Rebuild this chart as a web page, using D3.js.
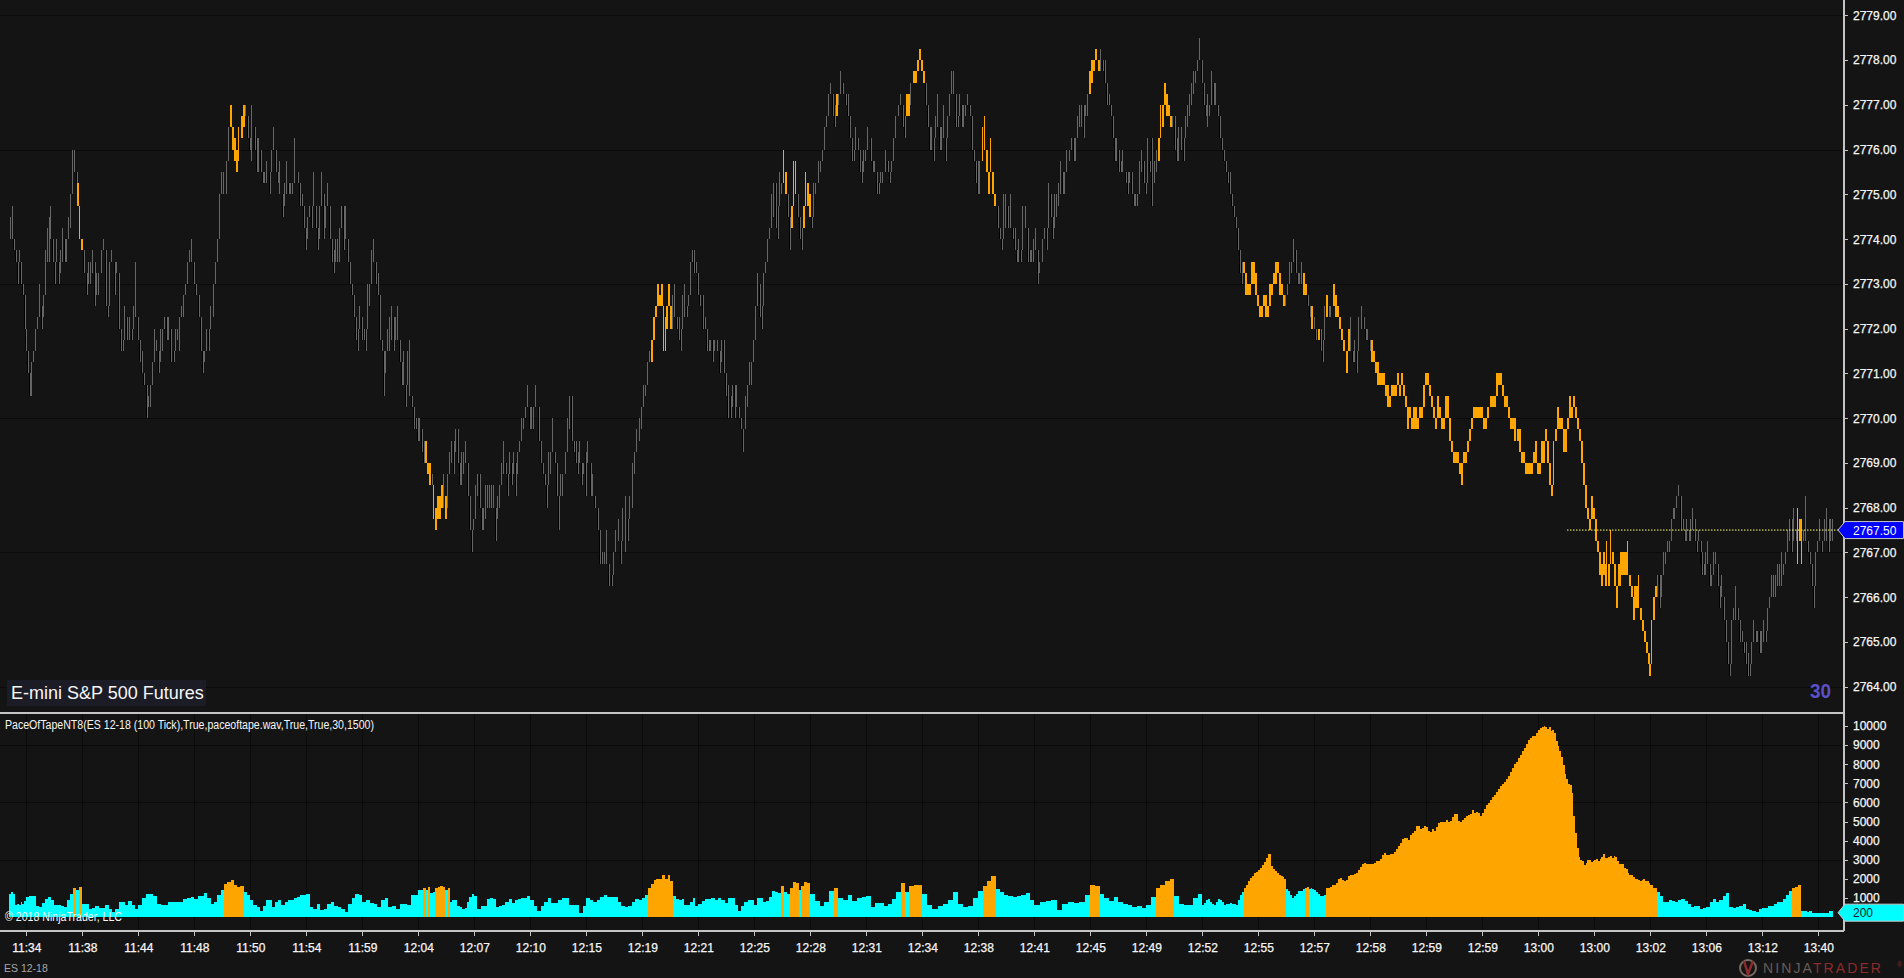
<!DOCTYPE html>
<html><head><meta charset="utf-8">
<script src="https://cdn.jsdelivr.net/npm/d3@7/dist/d3.min.js"></script>
<style>
html,body{margin:0;padding:0;background:#141414;overflow:hidden}
svg{display:block}
text{font-family:"Liberation Sans",Arial,sans-serif}
</style></head><body>
<svg id="c" width="1904" height="978"></svg>
<script>
const timeLabels=["11:34","11:38","11:44","11:48","11:50","11:54","11:59","12:04","12:07","12:10","12:15","12:19","12:21","12:25","12:28","12:31","12:34","12:38","12:41","12:45","12:49","12:52","12:55","12:57","12:58","12:59","12:59","13:00","13:00","13:02","13:06","13:12","13:40"];
const priceTicks=[2764,2765,2766,2767,2768,2769,2770,2771,2772,2773,2774,2775,2776,2777,2778,2779];
const priceGrid=[2764,2767,2770,2773,2776,2779];
const paceTicks=[1000,2000,3000,4000,5000,6000,7000,8000,9000,10000];
const paceGrid=[3000,6000,9000];
const priceBase=2764, tickSize=0.25, paceThreshold=1500, lastPrice=2767.5, lastPace=200;
// Each entry is [low, high, hot] in quarter-point ticks above priceBase, grouped by time-label interval.
const priceSections=[
[[40,42],[40,43],[39,40],[38,39],[36,38],[38,39],[36,38],[35,36],[32,34],[30,32]],
[[28,30],[26,28],[26,29],[29,30],[31,32],[32,33],[33,36],[32,34],[33,35],[35,39],[38,41],[38,42],[40,43],[38,40],[36,38],[38,40],[36,38],[37,39],[38,41],[38,40],[38,40],[40,42],[41,44],[44,48],[46,48],[45,46],[43,45,1],[40,42,1],[39,40,1]],
[[37,39],[35,37],[36,38],[36,38],[37,39],[34,38],[35,37],[35,37],[37,39],[39,40],[34,36],[33,34],[34,38],[38,39],[35,38],[37,38],[32,35],[30,32],[30,31],[31,34],[31,33],[31,33],[31,32],[32,34],[33,38],[31,33]],
[[29,31],[28,30],[27,28],[24,27],[25,26],[25,27],[27,29],[29,32],[30,31],[28,30],[29,32],[30,32],[32,33],[31,33],[31,33],[29,32],[29,30],[30,32],[31,32],[30,33],[33,34],[33,35],[35,36],[37,38],[38,39],[38,40],[36,38]],
[[35,36],[33,34],[30,32],[28,30],[29,30],[31,32],[30,32],[32,34],[33,36],[37,38],[39,40],[40,44],[44,46],[44,46],[44,47],[48,50],[50,52,1],[48,50,1],[47,49,1],[46,48,1],[47,50,1],[49,51,1],[50,52,1],[51,52],[49,51],[48,49]],
[[47,52],[48,50],[46,49],[46,49],[46,48],[45,46],[45,46],[45,47],[44,46],[46,48],[48,50],[46,47],[45,46],[44,47],[42,44],[43,45],[44,47],[44,45],[44,45],[44,45],[46,49],[45,46],[43,45],[43,44],[41,43],[39,41]],
[[40,42],[42,43],[41,43],[43,46],[41,43],[39,40],[40,43],[43,46],[40,44],[41,43],[43,45],[40,41],[38,40],[37,39],[38,40],[38,40],[38,41],[41,43],[39,43],[40,43],[38,40],[36,38],[35,36],[33,35],[31,33],[30,32],[32,34],[31,33]],
[[31,32],[30,32],[33,36],[34,36],[37,39],[38,40],[36,38],[35,37],[31,34],[30,31],[26,30],[28,30],[31,32],[30,33],[31,34],[30,33],[31,33],[31,34],[29,31],[27,29],[27,30],[25,27],[27,30],[26,31],[25,26],[23,25],[23,24],[22,24]],
[[22,24],[21,23],[20,22],[20,22,1],[19,20,1],[18,20,1],[18,19],[15,17,1],[14,16,1],[15,17,1],[15,17,1],[16,18,1],[16,19],[15,17,1],[16,19],[19,21],[20,22],[19,22],[21,23],[20,23],[18,20],[18,21],[19,21],[20,22],[17,19],[14,17],[12,14],[14,15]],
[[16,18],[17,19],[16,19],[14,16],[14,16],[15,18],[16,18],[16,18],[16,18],[16,18],[13,15],[15,17],[16,18],[18,20],[19,22],[19,20],[17,19],[19,21],[18,20],[19,21],[17,20],[19,21],[21,22],[22,24],[23,24],[24,25],[25,27],[23,24]],
[[23,25],[23,25],[25,27],[22,24],[20,22],[19,20],[18,19],[16,18],[18,21],[19,21],[21,24],[20,21],[17,19],[14,17],[17,19],[17,19],[20,21],[22,24],[23,26],[22,26],[21,22],[20,22],[19,21],[20,22],[18,19],[19,20],[17,21]],
[[20,22],[17,19],[17,19],[16,17],[14,16],[11,13],[11,12],[11,12],[11,14],[9,11],[9,10],[10,12],[12,14],[13,15],[11,13],[13,16],[12,17],[13,15],[15,17],[16,20],[19,21],[21,23],[22,24],[23,25]],
[[25,27],[26,27],[27,29],[29,30],[29,31,1],[31,33,1],[33,34,1],[34,36,1],[34,35,1],[34,36,1],[30,33,1],[30,33,1],[32,34,1],[34,36,1],[32,34,1],[32,35],[33,36],[32,33],[31,33],[30,32],[33,35],[33,36],[33,34],[34,35],[36,38],[38,39],[37,39],[37,38],[35,37]],
[[34,35],[32,35],[32,33],[30,32],[30,31],[30,31],[29,31],[30,31],[30,31],[28,30],[29,31],[28,31],[26,28],[24,27],[24,26],[25,27],[24,27],[25,27],[24,25],[23,24],[21,23],[24,26],[25,27],[27,29],[27,29],[29,31]],
[[32,34],[35,37],[33,36],[32,34],[34,37],[37,38],[38,40],[40,41],[41,44],[42,45],[41,45],[40,43],[43,46],[44,45],[46,48,1],[44,46,1],[42,43],[39,41],[41,43,1],[43,47,1],[44,47,1],[42,44],[40,42],[39,41],[41,43,1],[44,46,1],[43,45,1],[42,44,1]],
[[41,42],[44,45],[44,45],[45,47],[46,47],[47,48],[48,50],[50,51],[51,53],[53,54],[51,53],[50,52],[51,53,1],[52,53],[53,55],[53,54],[52,53],[51,53],[49,51],[47,49],[47,48],[48,50],[48,49],[46,48],[45,47],[46,48],[47,48]],
[[48,50],[47,49],[46,47],[46,47],[44,46],[44,45],[45,46],[45,46],[46,48],[46,47],[45,46],[46,47],[47,49],[50,51],[51,52],[52,53],[50,51],[49,51],[52,53,1],[51,53,1],[52,54],[54,55,1],[54,55,1],[55,56,1],[56,57,1],[55,56,1]],
[[54,55,1],[52,53],[50,52],[48,50],[48,50],[47,49],[49,51],[50,53],[48,50],[48,50],[49,52],[47,49],[49,51],[51,53],[53,55],[53,55],[50,52],[50,51],[52,53],[50,51],[50,52],[51,52],[52,53],[51,52],[48,50],[47,48],[45,47],[44,47]],
[[44,47],[48,50,1],[48,51,1],[46,47,1],[44,46,1],[46,49,1],[44,46,1],[43,44,1],[41,43],[40,41],[39,40],[41,44],[41,44],[41,43],[41,44],[40,41],[39,41],[38,39],[38,40],[38,39],[40,43],[41,43],[38,41],[38,39],[38,39],[38,40]],
[[39,41],[36,39],[37,38],[38,40],[40,41],[39,41],[43,45],[42,44],[40,41],[41,44],[42,44],[43,45],[44,47],[44,46],[44,46],[46,48],[47,48],[48,49],[47,49],[47,49],[49,51],[50,52],[50,52],[49,52],[51,52],[51,53],[53,55,1]],
[[54,56,1],[55,56,1],[56,57,1],[55,56,1],[55,57],[55,56],[54,56],[52,54],[52,53],[51,52],[49,51],[47,49],[47,49],[46,48],[46,47],[46,48],[45,46],[44,46],[45,46],[44,46],[43,44],[43,44],[43,44],[44,47],[46,48],[45,47],[44,45]],
[[46,49],[46,47],[43,49],[45,47],[46,48],[47,49,1],[50,52,1],[50,52,1],[52,54,1],[51,53,1],[51,52,1],[50,51,1],[50,51],[48,51],[47,49],[47,50],[48,50],[47,49],[49,51],[50,52],[51,53],[52,54],[53,55],[54,55],[55,56],[56,58],[54,56]],
[[52,54],[51,52],[50,53],[51,52],[53,55],[52,54],[52,54],[51,52],[49,50],[48,49],[47,48],[46,47],[45,46],[44,46],[43,44],[42,43],[41,42],[39,41],[37,39],[36,38],[37,38,1],[35,37,1],[35,36,1],[35,36,1],[37,38,1],[36,38,1],[35,37,1],[34,35,1]],
[[33,34,1],[33,34,1],[34,35,1],[33,35,1],[33,34,1],[34,36,1],[35,36,1],[36,37,1],[36,38,1],[37,38,1],[35,37,1],[35,36,1],[34,35,1],[34,35],[35,36],[36,38],[37,38],[39,40],[37,39],[36,37],[36,37],[36,38],[35,37,1],[35,36,1],[34,35],[33,34],[32,34,1],[32,33]],
[[31,32],[31,32,1],[30,32],[29,31],[32,34],[33,35,1],[33,34],[33,34],[34,36,1],[33,35,1],[33,34,1],[32,33,1],[31,32,1],[30,31,1],[28,30,1],[30,32,1],[30,33],[29,30],[29,31],[28,30],[30,33],[32,34],[32,33],[31,32],[31,32],[30,31]],
[[29,31,1],[29,30,1],[28,29,1],[27,29,1],[27,28,1],[27,28,1],[27,28,1],[26,27,1],[25,27,1],[25,26,1],[26,27,1],[26,27,1],[26,27,1],[27,28,1],[26,27,1],[27,28,1],[26,27,1],[25,26,1],[23,25,1],[24,25,1],[23,24,1],[23,25,1],[23,25,1],[23,24,1],[24,25,1],[24,25,1],[26,27,1],[27,28,1]],
[[27,28,1],[26,27,1],[25,26,1],[24,25,1],[23,24,1],[25,26,1],[24,25,1],[23,24,1],[23,24,1],[24,26,1],[24,26,1],[22,23,1],[21,22,1],[20,21,1],[20,21,1],[20,21,1],[19,20,1],[18,20,1],[20,21,1],[20,21,1],[21,22,1],[22,23,1],[23,24,1],[24,25,1],[24,25,1],[24,25,1],[24,25,1],[24,25,1]],
[[23,24,1],[23,24,1],[24,25,1],[25,26,1],[25,26,1],[25,26,1],[27,28,1],[27,28,1],[27,28,1],[26,27,1],[25,26,1],[25,26,1],[24,25,1],[23,24,1],[23,24,1],[22,24,1],[22,23,1],[21,23,1],[20,21,1],[20,21,1],[19,20,1],[19,20,1],[19,20,1],[19,20,1],[20,21,1],[20,22,1],[19,20,1]],
[[19,20,1],[20,22,1],[20,22,1],[22,23,1],[20,21,1],[18,20,1],[17,18,1],[20,22,1],[22,23,1],[24,25,1],[23,24,1],[23,24,1],[21,23,1],[21,23,1],[23,24,1],[25,26,1],[24,25,1],[25,26,1],[24,25,1],[23,24,1],[22,23,1],[20,22,1],[18,20,1],[16,17,1],[15,16,1],[14,15,1],[15,17,1],[15,16,1]],
[[13,14,1],[12,13,1],[10,12,1],[9,11,1],[10,12,1],[9,11,1],[10,13,1],[9,11,1],[11,14,1],[11,12,1],[9,10,1],[7,9,1],[9,11,1],[9,12,1],[10,12,1],[10,12,1],[10,12,1],[10,13,1],[9,10,1],[8,9,1],[6,8,1],[7,9,1],[7,9,1],[7,10,1],[6,7,1],[5,6,1],[4,5,1],[3,4,1],[2,3,1],[1,2,1]],
[[3,6,1],[6,8,1],[8,9,1],[8,10],[7,10],[8,10],[10,12],[11,12],[12,13],[12,13],[13,15],[15,16],[15,16],[16,17],[17,18],[14,16],[14,15],[13,14],[13,15],[13,14],[13,15],[14,16],[13,15],[12,13],[13,14],[11,12],[10,12],[10,11],[10,12]],
[[11,13],[9,10],[9,10],[10,12],[11,12],[9,10],[7,9],[8,10],[6,8],[4,6],[2,4],[1,2],[4,6],[6,7],[6,9],[6,7],[4,6],[4,5],[3,4],[2,4],[1,3],[1,2],[3,4],[4,6],[4,5],[4,5],[3,5],[3,5]],
[[4,6],[4,5],[5,7],[7,8],[8,10],[8,10],[8,10],[9,11],[9,11],[9,12],[10,11],[11,12],[12,14],[13,15],[12,15],[13,16],[13,14],[11,16,1],[13,15,1],[11,15,1],[13,14],[13,17],[12,13],[11,12],[9,11],[7,9],[11,12],[12,13]],
[[13,15],[12,13],[13,15],[13,16],[12,15],[13,15],[13,15]]
];
// Pace-of-tape histogram values, grouped the same way.
const paceSections=[
[1200,1300,1200,650,700,650,800,700,850],
[1050,1080,1080,600,520,730,960,1050,870,610,650,600,520,870,1220,1500,1400,1570],
[700,700,440,490,575,490,490,610,440,260,440,785,785,610,840,610,440],
[610,1010,1190,1220,1110,700,645,645,785,785,785,785,960,1010,1050],
[960,1080,1080,1270,1010,700,785,1130,1400,1710,1830,1920,1660,1570,1605,1310,1130],
[870,610,520,310,560,870,870,520,785,870,610,785,910,910,1010,1050,1170,1130],
[1190,520,440,700,350,440,700,785,560,520,440,260,700,1010,1190,1130],
[785,870,730,700,520,870,1010,520,560,440,700,700,610,1130,1130],
[1400,1430,1500,1400,1580,1250,1300,1500,1580,1600,1550,1400,1500,780,870,870,600,520,420,450,780,1050,1200],
[1100,400,570,600,920,1000,920,520,600,620,800,960,750,870,950,1000,1000,1100],
[870,600,300,550,800,970,730,730,900,1000,1000,650,620,650,220,550],
[1000,900,780,900,1050,1130,1050,1050,1050,800,560,520,600,780,950,880],
[1000,1150,1500,1750,1950,1970,2000,2200,2000,2200,1900,1100,950,870,950,620,650,800,1000,550],
[700,830,930,960,990,900,970,900,720,1000,1000,650,300,580,800,900,900],
[620,1000,1000,800,830,1050,1350,1300,1250,1600,1300,1200,1500,1820,1800,1400,1620,1850,1800],
[1200,820,550,800,1350,1500,1000,900,1130,850,1000,1050],
[1090,500,750,720,580,700,950,1300,1800,1300,1600,1650,1700],
[1200,620,420,550,700,900,1300,700,500,600,1000],
[1350,1600,1900,2150,1450,1300,1150,1100,1050,1100,1150,1250,900],
[620,800,850,900,350,700,800,750,800,1150],
[1700,1600,1200,1000,850,1050,800,700,620,500,600,450],
[650,1050,1500,1700,1900,2000,1100,700,650,650,1000,1200],
[650,750,900,950,800,700,650,800,950,900,800,650,700,700,750,700,700,650,900,1150,1300,1500,1700,1900,2050,2150,2300,2370],
[2450,2550,2700,2900,3100,3300,3300,2650,2500,2400,2300,2200,2150,2100,2000,1450,1350,1150,1000,1100,1200,1350,1350,1350,1450,1500,1550,1450,1500,1480],
[1400,1300,1200,1100,1100,1150,1500,1500,1550,1650,1700,1800,2000,2050,1950,1900,1950,2150,2200,2200,2250,2300,2450,2600,2750,2850,2750,2750],
[2800,2800,2850,2950,2950,3050,3250,3350,3250,3250,3300,3300,3400,3550,3700,3900,4100,4150,4150,4050,4300,4400,4500,4750,4750,4600,4650,4750],
[4700,4500,4450,4600,4500,4700,4900,5000,5000,5000,5100,5000,5050,5250,5400,5400,5050,4950,5100,5200,5300,5350,5400,5600,5450,5500,5450,5300],
[5450,5650,5850,5950,6100,6300,6400,6550,6700,6850,6950,7050,7200,7400,7600,7800,8000,8100,8300,8500,8700,8850,9050,9250,9350,9500,9500,9650],
[9800,9900,9950,10000,9950,9850,9950,9750,9800,9650,9200,8950,8700,8400,7950,7500,7200,6950,6900,6500,5300,4400,3600,3150,3000,2950,2700,2850,3000,3000,2900,2950],
[3000,3050,2950,3050,3150,3300,3100,3100,3150,3200,3100,3200,3150,2950,2800,2750,2800,2550,2500,2300,2200,2200,2100,2000,2000,1950,1900,1950,2000,1900,1900,1800],
[1700,1500,1300,1100,800,800,900,850,800,900,950,850,700,500,550,600,400,450],
[500,800,950,800,900,1100,1250,500,450,500,600,700,400,350,300,250,400],
[450,450,600,600,700,800,800,950,1150,1350,1500,1550,1650,300,300,250,300,200,200],
[200,200,200,300]
];

const W=1904,H=978,axisX=1844,divY=713,botY=931,firstTick=26.3,lastTick=1818.3,startX=9,endX=1833;
const COL={bg:"#141414",grid:"#0a0a0a",axis:"#c4c4c4",up:"#666666",down:"#000000",hot:"#ffa500",cyan:"#00ffff",txt:"#f6f6f6"};
const svg=d3.select("#c");
svg.append("rect").attr("width",W).attr("height",H).attr("fill",COL.bg);

const yP=d3.scaleLinear().domain([2764,2779]).range([686.7,15.4]);
const yV=d3.scaleLinear().domain([0,10000]).range([917,726]);
const xT=d3.scaleLinear().domain([0,timeLabels.length-1]).range([firstTick,lastTick]);
const sectionScale=(s,n)=>{
  const a=s===0?startX:xT(s-1), b=s===paceSections.length-1?endX:xT(s);
  return d3.scaleLinear().domain([0,n]).range([a,b]);
};
// grid
const grid=svg.append("g").attr("stroke",COL.grid).attr("shape-rendering","crispEdges");
grid.selectAll(".gp").data(priceGrid).join("line").attr("x1",0).attr("x2",axisX).attr("y1",d=>Math.round(yP(d))+.5).attr("y2",d=>Math.round(yP(d))+.5);
grid.selectAll(".gv").data(paceGrid).join("line").attr("x1",0).attr("x2",axisX).attr("y1",d=>Math.round(yV(d))+.5).attr("y2",d=>Math.round(yV(d))+.5);
grid.selectAll(".gt").data(timeLabels).join("line").attr("x1",(d,i)=>Math.round(xT(i))+.5).attr("x2",(d,i)=>Math.round(xT(i))+.5).attr("y1",divY).attr("y2",botY);

// price bars: each bar is stretched to touch its neighbour so the path stays continuous
const flat=[];
priceSections.forEach((sec,s)=>{const x=sectionScale(s,sec.length);sec.forEach((b,i)=>flat.push({lo:priceBase+b[0]*tickSize,hi:priceBase+b[1]*tickSize,hot:!!b[2],x:x(i+.5),span:b[1]-b[0]}));});
flat.forEach((b,i)=>{
  const prev=i?flat[i-1]:b;
  b.fall=(b.lo+b.hi)<(prev.lo+prev.hi);
  b.top=Math.max(b.hi,prev.lo);
  b.bot=Math.min(b.lo,prev.hi);
  b.thin=b.top-b.bot>=3*tickSize;
});
const bars=svg.append("g").attr("shape-rendering","crispEdges");
// falling bars keep a thin grey edge next to their black body
bars.selectAll(".edge").data(flat.filter(d=>d.fall&&!d.hot)).join("rect").attr("class","edge")
 .attr("x",d=>Math.round(d.x)+1).attr("width",1)
 .attr("y",d=>yP(d.top)).attr("height",d=>yP(d.bot)-yP(d.top)).attr("fill",COL.up);
bars.selectAll(".bar").data(flat).join("rect").attr("class","bar")
 .attr("x",d=>Math.round(d.x)).attr("width",d=>d.hot?(d.thin?1:2):1)
 .attr("y",d=>yP(d.top)).attr("height",d=>yP(d.bot)-yP(d.top))
 .attr("fill",d=>d.hot?COL.hot:(d.fall?COL.down:COL.up));

// pace histogram
const vflat=[];
paceSections.forEach((sec,s)=>{const x=sectionScale(s,sec.length);sec.forEach((v,i)=>vflat.push({v,x0:x(i),x1:x(i+1)}));});
svg.append("g").attr("shape-rendering","crispEdges").selectAll("rect").data(vflat).join("rect")
 .attr("x",d=>Math.round(d.x0)).attr("width",d=>Math.round(d.x1)-Math.round(d.x0))
 .attr("y",d=>yV(d.v)).attr("height",d=>yV(0)-yV(d.v))
 .attr("fill",d=>d.v>=paceThreshold?COL.hot:COL.cyan);

// axes
function styleAxis(g){g.select(".domain").remove();g.selectAll("line").attr("stroke",COL.axis).attr("shape-rendering","crispEdges");g.selectAll("text").attr("fill",COL.txt).attr("font-size",12).attr("font-family",'"Liberation Sans",Arial,sans-serif').attr("stroke",COL.txt).attr("stroke-width",.25);}
svg.append("g").attr("transform",`translate(${axisX},0)`).call(d3.axisRight(yP).tickValues(priceTicks).tickSize(4).tickPadding(5).tickFormat(d3.format(".2f"))).call(styleAxis);
svg.append("g").attr("transform",`translate(${axisX},0)`).call(d3.axisRight(yV).tickValues(paceTicks).tickSize(4).tickPadding(5).tickFormat(d=>d)).call(styleAxis);
svg.append("g").attr("transform",`translate(0,${botY})`).call(d3.axisBottom(xT).tickValues(d3.range(timeLabels.length)).tickSize(5).tickPadding(7).tickFormat(i=>timeLabels[i])).call(styleAxis);

// frame
const fr=svg.append("g").attr("stroke",COL.axis).attr("stroke-width",1.5).attr("shape-rendering","crispEdges");
fr.append("line").attr("x1",0).attr("x2",axisX).attr("y1",divY).attr("y2",divY);
fr.append("line").attr("x1",0).attr("x2",axisX).attr("y1",botY).attr("y2",botY);
fr.append("line").attr("x1",axisX).attr("x2",axisX).attr("y1",0).attr("y2",botY);

// last-price line and markers
const lastY=yP(lastPrice);
svg.append("line").attr("x1",1567).attr("x2",1838).attr("y1",lastY).attr("y2",lastY).attr("stroke","#ffff66").attr("stroke-width",1).attr("stroke-dasharray","1.5 1.5");
function marker(y,fill,txt,tc){
 const h=8.5;
 svg.append("path").attr("d",`M1838 ${y}L1845 ${y-h}H1903.5V${y+h}H1845Z`).attr("fill",fill).attr("stroke","#c8c8c8").attr("stroke-width",1);
 svg.append("text").attr("x",1853).attr("y",y+4.5).attr("font-size",12).attr("fill",tc).text(txt);
}
marker(lastY,"#0000ff",d3.format(".2f")(lastPrice),"#ffffff");
marker(yV(lastPace)-.5,COL.cyan,String(lastPace),"#10202a");

// labels
svg.append("rect").attr("x",7).attr("y",680).attr("width",199).attr("height",26).attr("fill","#1c1c26");
svg.append("text").attr("x",11).attr("y",699).attr("font-size",18).attr("fill",COL.txt).text("E-mini S&P 500 Futures");
svg.append("text").attr("x",1810).attr("y",698).attr("font-size",20).attr("font-weight",700).attr("fill","#5a50c8").attr("textLength",21).attr("lengthAdjust","spacingAndGlyphs").text("30");
svg.append("text").attr("x",5).attr("y",729).attr("font-size",12).attr("fill",COL.txt).attr("textLength",369).attr("lengthAdjust","spacingAndGlyphs").text("PaceOfTapeNT8(ES 12-18 (100 Tick),True,paceoftape.wav,True,True,30,1500)");
svg.append("text").attr("x",5).attr("y",921).attr("font-size",12).attr("fill",COL.txt).attr("textLength",117).attr("lengthAdjust","spacingAndGlyphs").text("© 2018 NinjaTrader, LLC");
svg.append("text").attr("x",4).attr("y",972).attr("font-size",10.5).attr("fill","#a8a8a8").text("ES 12-18");

// brand
const lg=svg.append("g");
lg.append("circle").attr("cx",1748).attr("cy",968).attr("r",8).attr("fill","none").attr("stroke","#7a6a62").attr("stroke-width",2);
lg.append("path").attr("d","M1744 961L1748 974L1753 961").attr("fill","none").attr("stroke","#8c2b2b").attr("stroke-width",2.5);
const brand=lg.append("text").attr("x",1763).attr("y",973).attr("font-size",14).attr("letter-spacing",2.1);
brand.append("tspan").attr("fill","#6a5a55").text("NINJA");
brand.append("tspan").attr("fill","#8c2b2b").text("TRADER");
lg.append("text").attr("x",1897).attr("y",967).attr("font-size",7).attr("fill","#8c2b2b").text("®");
</script>
</body></html>
